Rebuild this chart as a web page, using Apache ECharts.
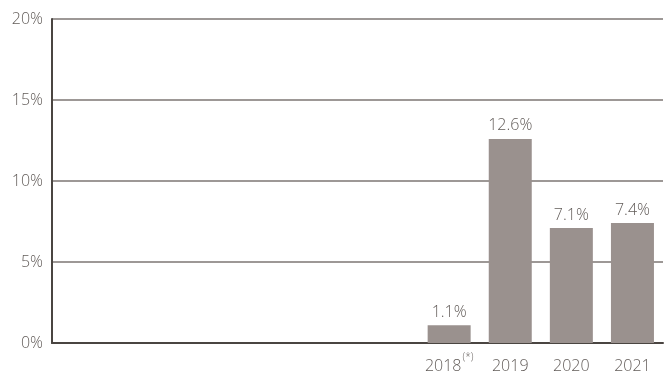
<!DOCTYPE html>
<html>
<head>
<meta charset="utf-8">
<script src="https://cdn.jsdelivr.net/npm/echarts@6/dist/echarts.min.js"></script>
<style>
  html, body { margin: 0; padding: 0; background: #fff; }
  #chart { width: 670px; height: 377px; }
</style>
</head>
<body>
<div id="chart"></div>
<script>
// Ten yearly slots; only the last four carry values.
const years = ['', '', '', '', '', '', '2018', '2019', '2020', '2021'];
const growth = [null, null, null, null, null, null, 1.1, 12.6, 7.1, 7.4];
const footnoted = ['2018'];
const yTicks = [0, 5, 10, 15, 20];

const textColor = '#625c59';
const fontFamily = '"Open Sans", "Noto Sans", sans-serif';

const chart = echarts.init(document.getElementById('chart'));
chart.setOption({
  animation: false,
  grid: { left: 52, right: 7, top: 19, bottom: 34 },
  xAxis: {
    type: 'category',
    data: years,
    axisLine: { show: true, lineStyle: { color: '#4a4541', width: 2 } },
    axisTick: { show: false },
    axisLabel: {
      interval: 0,
      margin: 9,
      color: textColor,
      fontSize: 16,
      fontFamily: fontFamily,
      fontWeight: 300,
      formatter: v => footnoted.includes(v) ? '{y|' + v + '}{sup|(*)}' : '{y|' + v + '}',
      rich: {
        y: {
          fontSize: 16,
          color: textColor,
          fontFamily: fontFamily,
          fontWeight: 300,
          lineHeight: 22,
          verticalAlign: 'bottom'
        },
        sup: {
          fontSize: 10,
          color: textColor,
          fontFamily: fontFamily,
          lineHeight: 22,
          verticalAlign: 'top',
          padding: [0, 0, 0, 1]
        }
      }
    }
  },
  yAxis: {
    type: 'value',
    min: yTicks[0],
    max: yTicks[yTicks.length - 1],
    interval: 5,
    axisLine: { show: true, lineStyle: { color: '#4a4541', width: 2 } },
    axisTick: { show: false },
    splitLine: { show: true, lineStyle: { color: '#7d7673', width: 1.5 } },
    axisLabel: {
      margin: 9,
      color: textColor,
      fontSize: 16,
      fontFamily: fontFamily,
      fontWeight: 300,
      formatter: v => v + '%'
    }
  },
  series: [{
    type: 'bar',
    data: growth,
    barWidth: 43,
    itemStyle: { color: '#9a918e' },
    label: {
      show: true,
      position: 'top',
      distance: 5,
      color: textColor,
      fontSize: 16,
      fontFamily: fontFamily,
      fontWeight: 300,
      formatter: p => p.value.toFixed(1) + '%'
    }
  }]
});
</script>
</body>
</html>
